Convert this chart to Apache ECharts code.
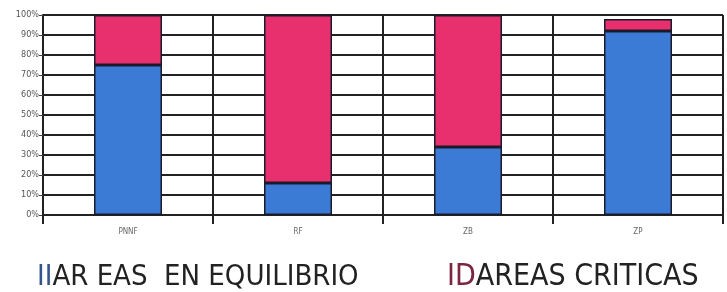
<!DOCTYPE html>
<html>
<head>
<meta charset="utf-8">
<script src="https://cdn.jsdelivr.net/npm/echarts@6/dist/echarts.min.js"></script>
<style>
  html, body { margin: 0; padding: 0; background: #fff; }
  #chart { width: 727px; height: 292px; }
</style>
</head>
<body>
<div id="chart"></div>
<script>
let categories = ['PNNF', 'RF', 'ZB', 'ZP'];
let equilibrio = [75, 16, 34, 92];
let criticas = [25, 84, 66, 6];

let narrow = 'Liberation Sans Narrow, DejaVu Sans Condensed, sans-serif';

let chart = echarts.init(document.getElementById('chart'));

let option = {
    animation: false,
    grid: {
        left: 43,
        right: 4,
        top: 15,
        bottom: 77
    },
    xAxis: {
        type: 'category',
        data: categories,
        boundaryGap: true,
        axisLine: { show: true, lineStyle: { color: '#222', width: 2 } },
        axisTick: { show: true, length: 9, lineStyle: { color: '#222', width: 2 } },
        splitLine: { show: true, lineStyle: { color: '#222', width: 2 } },
        axisLabel: {
            color: '#666',
            fontSize: 8,
            fontFamily: narrow,
            margin: 13
        }
    },
    yAxis: {
        type: 'value',
        min: 0,
        max: 100,
        interval: 10,
        axisLine: { show: true, lineStyle: { color: '#222', width: 2 } },
        axisTick: { show: true, length: 4, lineStyle: { color: '#444' } },
        splitLine: { show: true, lineStyle: { color: '#222', width: 2 } },
        axisLabel: {
            formatter: '{value}%',
            color: '#555',
            fontSize: 9,
            fontFamily: narrow,
            margin: 4
        }
    },
    series: [{
        name: 'AREAS EN EQUILIBRIO',
        type: 'bar',
        stack: 'total',
        barWidth: 68,
        data: equilibrio,
        itemStyle: { color: '#3b7bd6', borderColor: '#1a1a2a', borderWidth: 1.5 }
    }, {
        name: 'AREAS CRITICAS',
        type: 'bar',
        stack: 'total',
        barWidth: 68,
        data: criticas,
        itemStyle: { color: '#e8306f', borderColor: '#1a1a2a', borderWidth: 1.5 }
    }],
    graphic: [{
        type: 'text',
        left: 37,
        top: 263,
        style: {
            text: '{a|II}{b|AR EAS  EN EQUILIBRIO}',
            rich: {
                a: { fill: '#34558c', fontSize: 29, fontFamily: narrow },
                b: { fill: '#222', fontSize: 29, fontFamily: narrow }
            }
        }
    }, {
        type: 'text',
        left: 447,
        top: 262,
        style: {
            text: '{a|ID}{b|AREAS CRITICAS}',
            rich: {
                a: { fill: '#7c2540', fontSize: 30, fontFamily: narrow },
                b: { fill: '#222', fontSize: 30, fontFamily: narrow }
            }
        }
    }]
};

chart.setOption(option);
</script>
</body>
</html>
